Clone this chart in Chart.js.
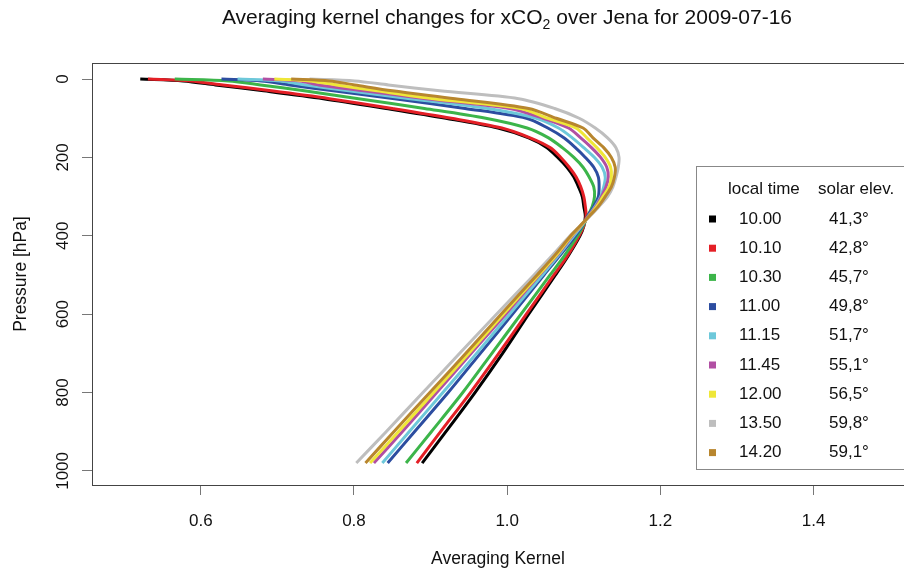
<!DOCTYPE html>
<html><head><meta charset="utf-8">
<script src="https://cdn.jsdelivr.net/npm/chart.js@4/dist/chart.umd.min.js"></script>
<style>html,body{margin:0;padding:0;background:#fff}#wrap{width:904px;height:570px;position:relative}</style>
</head><body><div id="wrap"><canvas id="c" width="904" height="570"></canvas></div>
<script>
// ---- data ----
const pressureLevels = [0,5,15,30,50,75,100,125,150,175,200,225,250,275,300,325,350,375,400,450,500,600,700,800,900,980];
const localTimes = ['10.00','10.10','10.30','11.00','11.15','11.45','12.00','13.50','14.20'];
const solarElev  = ['41,3°','42,8°','45,7°','49,8°','51,7°','55,1°','56,5°','59,8°','59,1°'];
const ak_1000 = [0.521,0.577,0.619,0.682,0.760,0.842,0.920,0.988,1.028,1.052,1.066,1.078,1.087,1.093,1.098,1.100,1.102,1.100,1.095,1.080,1.063,1.028,0.994,0.958,0.920,0.889];
const ak_1010 = [0.531,0.586,0.629,0.692,0.768,0.850,0.927,0.993,1.030,1.056,1.070,1.081,1.090,1.096,1.100,1.102,1.103,1.100,1.094,1.079,1.061,1.025,0.989,0.952,0.913,0.882];
const ak_1030 = [0.566,0.636,0.678,0.735,0.806,0.892,0.972,1.026,1.054,1.072,1.087,1.099,1.107,1.113,1.114,1.111,1.105,1.099,1.092,1.075,1.056,1.018,0.980,0.942,0.901,0.868];
const ak_1100 = [0.627,0.679,0.716,0.773,0.853,0.945,1.025,1.053,1.074,1.089,1.102,1.113,1.119,1.120,1.119,1.113,1.105,1.098,1.089,1.069,1.048,1.007,0.965,0.923,0.879,0.844];
const ak_1115 = [0.648,0.703,0.737,0.793,0.873,0.975,1.038,1.067,1.085,1.100,1.114,1.124,1.128,1.126,1.122,1.115,1.106,1.097,1.087,1.067,1.046,1.003,0.960,0.916,0.872,0.837];
const ak_1145 = [0.681,0.729,0.754,0.813,0.894,1.003,1.047,1.080,1.096,1.110,1.122,1.130,1.132,1.129,1.123,1.116,1.106,1.096,1.085,1.065,1.042,0.998,0.953,0.908,0.863,0.826];
const ak_1200 = [0.696,0.742,0.777,0.830,0.904,1.017,1.053,1.090,1.104,1.117,1.128,1.135,1.136,1.133,1.125,1.117,1.107,1.096,1.084,1.064,1.041,0.995,0.950,0.904,0.858,0.821];
const ak_1350 = [0.742,0.801,0.845,0.912,1.015,1.062,1.094,1.115,1.131,1.142,1.146,1.145,1.142,1.138,1.131,1.120,1.108,1.095,1.082,1.059,1.035,0.986,0.938,0.890,0.842,0.803];
const ak_1420 = [0.718,0.768,0.801,0.850,0.932,1.028,1.064,1.099,1.112,1.126,1.136,1.141,1.140,1.136,1.128,1.119,1.107,1.095,1.083,1.062,1.039,0.992,0.946,0.899,0.852,0.815];
const xTicks = [0.6,0.8,1.0,1.2,1.4];
const yTicks = [0,200,400,600,800,1000];
const titleParts = ['Averaging kernel changes for xCO','2',' over Jena for 2009-07-16'];
const xTitle = 'Averaging Kernel';
const yTitle = 'Pressure [hPa]';
const legendHeader = ['local time','solar elev.'];

const seriesValues = [ak_1000, ak_1010, ak_1030, ak_1100, ak_1115, ak_1145, ak_1200, ak_1350, ak_1420];
const colors = ['#000000','#e41f26','#3cb54a','#2c4da0','#6dc8da','#b14fa3','#efe738','#bebebe','#b8862e'];
const FONT = '"Liberation Sans", Arial, Helvetica, sans-serif';

const datasets = seriesValues.map((vals, i) => ({
  label: localTimes[i],
  data: vals.map((v, k) => ({x: v, y: pressureLevels[k]})),
  borderColor: colors[i],
  backgroundColor: colors[i],
  borderWidth: 3,
  pointRadius: 0,
  showLine: true,
  tension: 0.3,
  fill: false,
  order: seriesValues.length - 1 - i
}));

const decor = {
  id: 'decor',
  afterDatasetsDraw(chart) {
    const ctx = chart.ctx, a = chart.chartArea;
    ctx.save();
    // plot box
    ctx.strokeStyle = '#444'; ctx.lineWidth = 1;
    ctx.strokeRect(a.left + 0.5, a.top + 0.5, a.right - a.left + 20, a.bottom - a.top);
    // legend
    const lx = 696, ly = 166, lb = 469;
    ctx.fillStyle = '#fff';
    ctx.fillRect(lx, ly, 300, lb - ly);
    ctx.strokeStyle = '#888';
    ctx.strokeRect(lx + 0.5, ly + 0.5, 300, lb - ly);
    ctx.font = '17px ' + FONT;
    ctx.fillStyle = '#111';
    ctx.textBaseline = 'middle';
    ctx.textAlign = 'left';
    ctx.fillText(legendHeader[0], 728, 189);
    ctx.fillText(legendHeader[1], 818, 189);
    for (let i = 0; i < localTimes.length; i++) {
      const y = 219 + i * 29.2;
      ctx.fillStyle = colors[i];
      ctx.fillRect(709, y - 3.5, 7, 7);
      ctx.fillStyle = '#111';
      ctx.fillText(localTimes[i], 739, y);
      ctx.fillText(solarElev[i], 829, y);
    }
    // title with subscript
    const mainFont = '21px ' + FONT, subFont = '14px ' + FONT;
    ctx.font = mainFont;
    const w0 = ctx.measureText(titleParts[0]).width;
    const w2 = ctx.measureText(titleParts[2]).width;
    ctx.font = subFont;
    const w1 = ctx.measureText(titleParts[1]).width;
    let tx = 507 - (w0 + w1 + w2) / 2;
    const ty = 18;
    ctx.fillStyle = '#111';
    ctx.font = mainFont;
    ctx.fillText(titleParts[0], tx, ty);
    tx += w0;
    ctx.font = subFont;
    ctx.fillText(titleParts[1], tx, ty + 7);
    tx += w1;
    ctx.font = mainFont;
    ctx.fillText(titleParts[2], tx, ty);
    ctx.restore();
  }
};

new Chart(document.getElementById('c'), {
  type: 'scatter',
  data: { datasets },
  plugins: [decor],
  options: {
    responsive: false,
    animation: false,
    devicePixelRatio: 1,
    layout: { padding: { left: 0, top: 63, right: 0, bottom: 0 } },
    plugins: { legend: { display: false }, tooltip: { enabled: false }, title: { display: false } },
    scales: {
      x: {
        type: 'linear', min: 0.458, max: 1.518,
        afterFit: s => { s.height = 85; },
        afterBuildTicks: s => { s.ticks = xTicks.map(v => ({value: v})); },
        grid: { drawOnChartArea: false, drawTicks: true, tickLength: 10, color: '#777', lineWidth: 1 },
        border: { display: false },
        ticks: { color: '#111', font: { family: FONT, size: 17 }, padding: 16, maxRotation: 0, autoSkip: false,
                 callback: v => v.toFixed(1) },
        title: { display: true, text: xTitle, color: '#111', font: { family: FONT, size: 17.5 }, padding: { top: 0, bottom: 0 } }
      },
      y: {
        type: 'linear', min: -41, max: 1036, reverse: true,
        afterFit: s => { s.width = 92; },
        afterBuildTicks: s => { s.ticks = yTicks.map(v => ({value: v})); },
        grid: { drawOnChartArea: false, drawTicks: true, tickLength: 10, color: '#777', lineWidth: 1 },
        border: { display: false },
        ticks: { color: '#111', font: { family: FONT, size: 17 }, padding: 0, minRotation: 90, maxRotation: 90,
                 crossAlign: 'center', autoSkip: false, callback: v => String(v) },
        title: { display: true, text: yTitle, color: '#111', font: { family: FONT, size: 17.5 }, padding: { top: 10.5, bottom: 0 } }
      }
    }
  }
});
</script></body></html>
